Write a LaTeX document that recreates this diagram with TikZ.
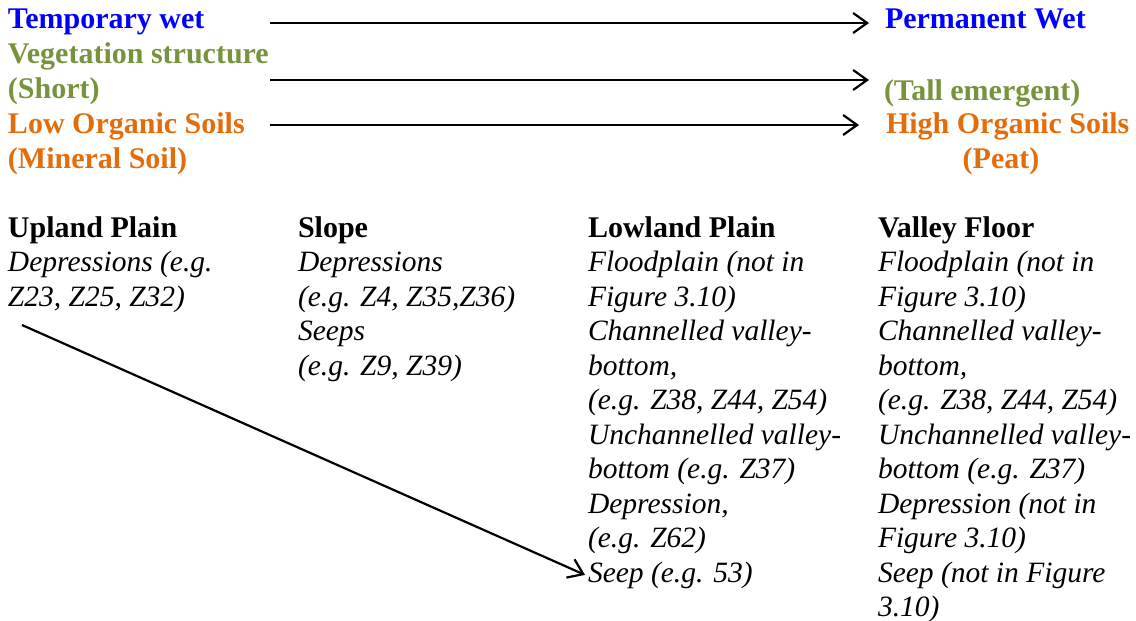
\documentclass[tikz,border=0pt]{standalone}
\usepackage{fontspec}
\newfontfamily\tnr{Liberation Serif}
\usetikzlibrary{arrows.meta}
\definecolor{wetblue}{RGB}{0,0,255}
\definecolor{veggreen}{RGB}{119,147,60}
\definecolor{soilorange}{RGB}{228,108,10}
\begin{document}
\begin{tikzpicture}[x=1pt,y=-1pt,
  txt/.style={anchor=base west,inner sep=0pt,outer sep=0pt,font=\tnr\fontsize{30}{34}\selectfont},
  hd/.style={txt,font=\tnr\fontsize{30}{34}\selectfont\bfseries},
  it/.style={txt,font=\tnr\fontsize{29.5}{34}\selectfont\itshape},
  arr/.style={line width=2.2pt,-{Straight Barb[length=14pt,width=20pt,line width=2.2pt]}}]
\useasboundingbox (0,0) rectangle (1136,621);
% top rows
\node[hd,text=wetblue] (tw) at (8,28) {Temporary wet};
\node[hd,text=veggreen] (vs) at (8,63) {Vegetation structure};
\node[hd,text=veggreen] (sh) at (8,98) {(Short)};
\node[hd,text=soilorange] (lo) at (8,133) {Low Organic Soils};
\node[hd,text=soilorange] (ms) at (8,168) {(Mineral Soil)};
\node[hd,text=wetblue] (pw) at (885,28) {Permanent Wet};
\node[hd,text=veggreen] (te) at (884,100) {(Tall emergent)};
\node[hd,text=soilorange] (ho) at (886,133) {High Organic Soils};
\node[hd,text=soilorange,anchor=base] (pe) at (1001,168) {(Peat)};
\coordinate (a1s) at (270,23); \coordinate (a1e) at (869,23);
\coordinate (a2s) at (270,80); \coordinate (a2e) at (869,80);
\coordinate (a3s) at (270,125); \coordinate (a3e) at (859,125);
\draw[arr] (a1s) -- (a1e);
\draw[arr] (a2s) -- (a2e);
\draw[arr] (a3s) -- (a3e);
% columns
\def\ls{34.5}
\node[hd] (c1h) at (8,237) {Upland Plain};
\node[it] (c1a) at (8,237+\ls) {Depressions (e.g.};
\node[it] (c1b) at (8,237+2*\ls) {Z23, Z25, Z32)};

\node[hd] (c2h) at (298,237) {Slope};
\node[it] (c2a) at (298,237+\ls) {Depressions};
\node[it] (c2b) at (298,237+2*\ls) {(e.g. Z4, Z35,Z36)};
\node[it] (c2c) at (298,237+3*\ls) {Seeps};
\node[it] (c2d) at (298,237+4*\ls) {(e.g. Z9, Z39)};

\node[hd] (c3h) at (588,237) {Lowland Plain};
\node[it] (c3a) at (588,237+\ls) {Floodplain (not in};
\node[it] (c3b) at (588,237+2*\ls) {Figure 3.10)};
\node[it] (c3c) at (588,237+3*\ls) {Channelled valley-};
\node[it] (c3d) at (588,237+4*\ls) {bottom,};
\node[it] (c3e) at (588,237+5*\ls) {(e.g. Z38, Z44, Z54)};
\node[it] (c3f) at (588,237+6*\ls) {Unchannelled valley-};
\node[it] (c3g) at (588,237+7*\ls) {bottom (e.g. Z37)};
\node[it] (c3h2) at (588,237+8*\ls) {Depression,};
\node[it] (c3i) at (588,237+9*\ls) {(e.g. Z62)};
\node[it] (c3j) at (588,237+10*\ls) {Seep (e.g. 53)};

\node[hd] (c4h) at (878,237) {Valley Floor};
\node[it] (c4a) at (878,237+\ls) {Floodplain (not in};
\node[it] (c4b) at (878,237+2*\ls) {Figure 3.10)};
\node[it] (c4c) at (878,237+3*\ls) {Channelled valley-};
\node[it] (c4d) at (878,237+4*\ls) {bottom,};
\node[it] (c4e) at (878,237+5*\ls) {(e.g. Z38, Z44, Z54)};
\node[it] (c4f) at (878,237+6*\ls) {Unchannelled valley-};
\node[it] (c4g) at (878,237+7*\ls) {bottom (e.g. Z37)};
\node[it] (c4h2) at (878,237+8*\ls) {Depression (not in};
\node[it] (c4i) at (878,237+9*\ls) {Figure 3.10)};
\node[it] (c4j) at (878,237+10*\ls) {Seep (not in Figure};
\node[it] (c4k) at (878,237+11*\ls) {3.10)};

\coordinate (dstart) at (22,325);
\draw[arr] (dstart) -- ([xshift=-3pt]c3j.west);
\end{tikzpicture}
\end{document}
